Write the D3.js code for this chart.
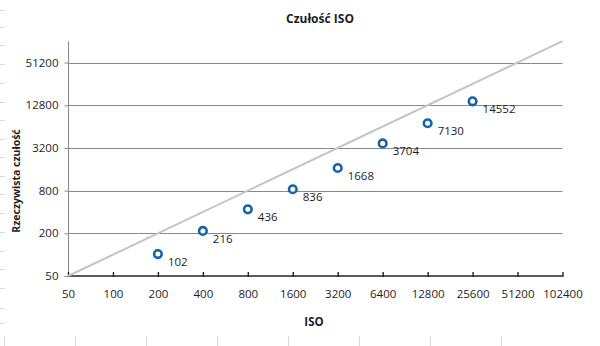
<!DOCTYPE html>
<html>
<head>
<meta charset="utf-8">
<script src="https://cdn.jsdelivr.net/npm/d3@7"></script>
<style>
  html, body { margin: 0; padding: 0; background: #fff; }
  svg { display: block; }
  text { font-family: "Open Sans", "Liberation Sans", sans-serif; fill: #1e1e1e; }
</style>
</head>
<body>
<svg id="chart" width="600" height="346"></svg>
<script>
// Nominal ISO setting vs. measured sensitivity
const isoSettings = [200, 400, 800, 1600, 3200, 6400, 12800, 25600];
const measuredIso = [102, 216, 436, 836, 1668, 3704, 7130, 14552];
const xTickValues = [50, 100, 200, 400, 800, 1600, 3200, 6400, 12800, 25600, 51200, 102400];
const yTickValues = [50, 200, 800, 3200, 12800, 51200];
const referenceLine = [50, 102400]; // ideal: measured == nominal

const svg = d3.select("#chart");

// faint cell borders of the sheet behind the chart
const sheet = svg.append("g").attr("stroke", "#d6dae0").attr("stroke-width", 1);
[10, 27, 45, 64, 83, 102, 120, 139, 157, 176, 194, 213, 232, 251, 269, 288, 308, 323]
  .forEach(y => sheet.append("line").attr("x1", 0).attr("x2", 5).attr("y1", y + 0.5).attr("y2", y + 0.5));
d3.range(8).forEach(i => {
  const x = 4.5 + i * 71;
  sheet.append("line").attr("x1", x).attr("x2", x).attr("y1", 336).attr("y2", 346);
});

const x = d3.scaleLog().base(2).domain([50, 102400]).range([68, 562.5]);
const y = d3.scaleLog().base(2).domain([50, 102400]).range([276, 41.2]);

// horizontal gridlines
svg.append("g")
  .selectAll("line")
  .data(yTickValues.filter(v => v > 50))
  .join("line")
  .attr("x1", x.range()[0]).attr("x2", x.range()[1])
  .attr("y1", d => Math.round(y(d)) + 0.5).attr("y2", d => Math.round(y(d)) + 0.5)
  .attr("stroke", "#8a8a8a").attr("stroke-width", 1);

// y axis
const yAxis = svg.append("g")
  .attr("transform", `translate(${x.range()[0] + 0.5},0)`)
  .call(d3.axisLeft(y).tickValues(yTickValues).tickFormat(d3.format("d")).tickSize(4).tickPadding(6));
yAxis.select(".domain").attr("stroke", "#8a8a8a").attr("d", `M0,${y.range()[1]}V${y.range()[0]}`);
yAxis.selectAll(".tick line").attr("stroke", "#8a8a8a");
yAxis.selectAll(".tick text").attr("font-size", "11.5px").attr("fill", "#1e1e1e")
  .attr("font-family", "'Open Sans', sans-serif");

// x axis
const xAxis = svg.append("g")
  .attr("transform", `translate(0,${y.range()[0]})`)
  .call(d3.axisBottom(x).tickValues(xTickValues).tickFormat(d3.format("d")).tickSize(0).tickPadding(14));
xAxis.select(".domain").attr("stroke", "#222").attr("stroke-width", 1.6)
  .attr("d", `M${x.range()[0]},0H${x.range()[1]}`);
xAxis.selectAll(".tick").append("line")
  .attr("y1", -4).attr("y2", 1).attr("stroke", "#222").attr("stroke-width", 1.4);
xAxis.selectAll(".tick text").attr("font-size", "11.5px").attr("fill", "#1e1e1e")
  .attr("font-family", "'Open Sans', sans-serif");

// y = x reference line
svg.append("line")
  .attr("x1", x(referenceLine[0])).attr("y1", y(referenceLine[0]))
  .attr("x2", x(referenceLine[1])).attr("y2", y(referenceLine[1]))
  .attr("stroke", "#c4c4c4").attr("stroke-width", 2);

// measured points
const pts = isoSettings.map((iso, i) => ({ iso, val: measuredIso[i] }));
svg.append("g")
  .selectAll("circle")
  .data(pts)
  .join("circle")
  .attr("cx", d => x(d.iso))
  .attr("cy", d => y(d.val))
  .attr("r", 3.8)
  .attr("fill", "#fff")
  .attr("stroke", "#1463aa")
  .attr("stroke-width", 2.6);

svg.append("g")
  .selectAll("text")
  .data(pts)
  .join("text")
  .attr("x", d => x(d.iso) + 10)
  .attr("y", d => y(d.val) + 12)
  .attr("font-size", "11.5px")
  .text(d => d.val);

// titles
svg.append("text")
  .attr("x", 320).attr("y", 23)
  .attr("text-anchor", "middle")
  .attr("font-size", "12px").attr("font-weight", "bold")
  .text("Czułość ISO");

svg.append("text")
  .attr("x", 314).attr("y", 326)
  .attr("text-anchor", "middle")
  .attr("font-size", "11.5px").attr("font-weight", "bold")
  .text("ISO");

svg.append("text")
  .attr("transform", "translate(20,181) rotate(-90)")
  .attr("text-anchor", "middle")
  .attr("font-size", "10.5px").attr("font-weight", "bold")
  .text("Rzeczywista czułość");
</script>
</body>
</html>
